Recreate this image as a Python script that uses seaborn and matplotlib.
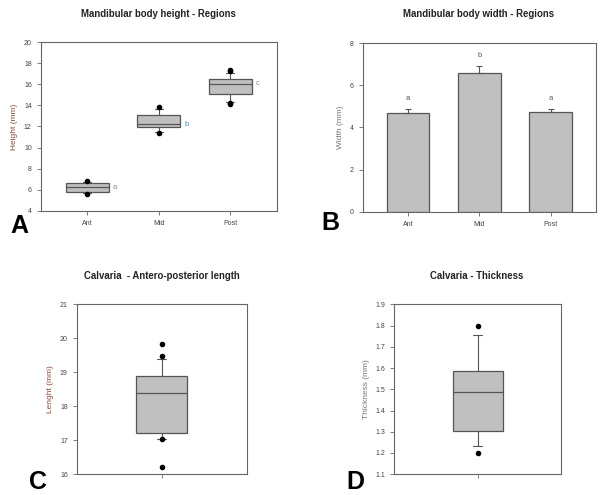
import numpy as np
import pandas as pd
import seaborn as sns
import matplotlib.pyplot as plt

# Panel A - mandibular body height, box stats per region (SigmaPlot style: 10/90 whiskers)
regions = ["Ant", "Mid", "Post"]
height_q1 = [5.77, 11.98, 15.05]
height_med = [6.25, 12.2, 16.03]
height_q3 = [6.62, 13.09, 16.47]
height_lo = [5.72, 11.5, 14.35]
height_hi = [6.7, 13.66, 17.04]
height_out = [[6.8, 5.6], [13.82, 11.36], [17.4, 17.3, 14.2, 14.1]]
height_letters = ["a", "b", "c"]

# Panel B - mandibular body width, mean + error
width_mean = [4.68, 6.6, 4.71]
width_err = [0.19, 0.29, 0.17]
width_letters = ["a", "b", "a"]

# Panel C - calvaria antero-posterior length
length_stats = {"q1": 17.2, "med": 18.4, "q3": 18.88, "lo": 17.05, "hi": 19.4,
                "out": [19.82, 19.47, 17.05, 16.2]}

# Panel D - calvaria thickness
thick_stats = {"q1": 1.304, "med": 1.487, "q3": 1.586, "lo": 1.232, "hi": 1.754,
               "out": [1.80, 1.20]}

sns.set_theme(style="white")
plt.rcParams['font.family'] = ['Liberation Sans', 'DejaVu Sans']

EDGE = "#555555"
FILL = "#C0C0C0"
BROWN = "#8B4A3A"
GRAY = "#777777"


def style_axes(ax):
    for s in ax.spines.values():
        s.set_color("#666666")
        s.set_linewidth(0.8)
    ax.tick_params(axis="both", direction="out", length=3, width=0.6,
                   colors="#666666", labelsize=5, labelcolor="#444444",
                   left=True, bottom=True)


def draw_boxes(ax, q1, med, q3, lo, hi, out, positions, width):
    stats = []
    for i in range(len(positions)):
        stats.append({"q1": q1[i], "med": med[i], "q3": q3[i],
                      "whislo": lo[i], "whishi": hi[i], "fliers": out[i]})
    ax.bxp(stats, positions=positions, widths=width, patch_artist=True,
           capwidths=0.05 if width < 0.4 else 0.11, manage_ticks=False,
           boxprops=dict(facecolor=FILL, edgecolor=EDGE, linewidth=0.9),
           medianprops=dict(color=EDGE, linewidth=0.9),
           whiskerprops=dict(color=EDGE, linewidth=0.8),
           capprops=dict(color=EDGE, linewidth=0.8),
           flierprops=dict(marker="o", markerfacecolor="black",
                           markeredgecolor="black", markersize=3))


fig = plt.figure(figsize=(6, 4.95), dpi=100)

# A
axA = fig.add_axes([0.068, 0.574, 0.393, 0.341])
draw_boxes(axA, height_q1, height_med, height_q3, height_lo, height_hi,
           height_out, [0, 1, 2], 0.6)
axA.set_xlim(-0.65, 2.65)
axA.set_ylim(4, 20)
axA.set_yticks(np.arange(4, 21, 2))
axA.set_xticks([0, 1, 2])
axA.set_xticklabels(regions)
axA.set_ylabel("Height (mm)", fontsize=6, color=BROWN, labelpad=4)
letter_cols = ["#7a8fa0", "#3a8fbf", "#7a8fa0"]
for i, lt in enumerate(height_letters):
    axA.text(i + 0.36, height_med[i], lt, fontsize=5.5, color=letter_cols[i],
             va="center", ha="left")
style_axes(axA)

# B
axB = fig.add_axes([0.605, 0.572, 0.388, 0.341])
sns.barplot(x=regions, y=width_mean, color=FILL, saturation=1, width=0.6,
            edgecolor=EDGE, linewidth=0.9, errorbar=None, ax=axB)
axB.errorbar(range(len(regions)), width_mean,
             yerr=[np.zeros(len(width_err)), width_err], fmt="none",
             ecolor=EDGE, elinewidth=0.8, capsize=2.5, capthick=0.8)
for i, lt in enumerate(width_letters):
    axB.text(i, width_mean[i] + width_err[i] + 0.35, lt, fontsize=5.5,
             color="#555555", ha="center", va="bottom")
axB.set_xlim(-0.63, 2.63)
axB.set_ylim(0, 8)
axB.set_yticks(np.arange(0, 9, 2))
axB.set_ylabel("Width (mm)", fontsize=6, color=GRAY, labelpad=4)
style_axes(axB)

# C
axC = fig.add_axes([0.128, 0.042, 0.283, 0.343])
draw_boxes(axC, [length_stats["q1"]], [length_stats["med"]], [length_stats["q3"]],
           [length_stats["lo"]], [length_stats["hi"]], [length_stats["out"]], [0], 0.3)
axC.set_xlim(-0.5, 0.5)
axC.set_ylim(16, 21)
axC.set_yticks(np.arange(16, 22, 1))
axC.set_xticks([0])
axC.set_xticklabels([""])
axC.set_ylabel("Lenght (mm)", fontsize=6, color=BROWN, labelpad=4)
style_axes(axC)

# D
axD = fig.add_axes([0.657, 0.042, 0.278, 0.343])
draw_boxes(axD, [thick_stats["q1"]], [thick_stats["med"]], [thick_stats["q3"]],
           [thick_stats["lo"]], [thick_stats["hi"]], [thick_stats["out"]], [0], 0.3)
axD.set_xlim(-0.5, 0.5)
axD.set_ylim(1.1, 1.9)
axD.set_yticks(np.round(np.arange(1.1, 1.91, 0.1), 1))
axD.set_xticks([0])
axD.set_xticklabels([""])
axD.set_ylabel("Thickness (mm)", fontsize=6, color=GRAY, labelpad=4)
style_axes(axD)

# titles
title_kw = dict(fontsize=6.9, fontweight="bold", ha="center", va="center",
                color="#222222")
fig.text(158 / 600, 1 - 14 / 495, "Mandibular body height - Regions", **title_kw)
fig.text(479 / 600, 1 - 14 / 495, "Mandibular body width - Regions", **title_kw)
fig.text(162 / 600, 1 - 276 / 495, "Calvaria  - Antero-posterior length", **title_kw)
fig.text(477 / 600, 1 - 276 / 495, "Calvaria - Thickness", **title_kw)

# panel letters
for lt, x, y in [("A", 10, 226), ("B", 321, 223), ("C", 29, 482), ("D", 346, 482)]:
    fig.text(x / 600, 1 - y / 495, lt, fontsize=18, fontweight="bold",
             ha="left", va="center", color="black")

plt.savefig("out.png", dpi=100)
